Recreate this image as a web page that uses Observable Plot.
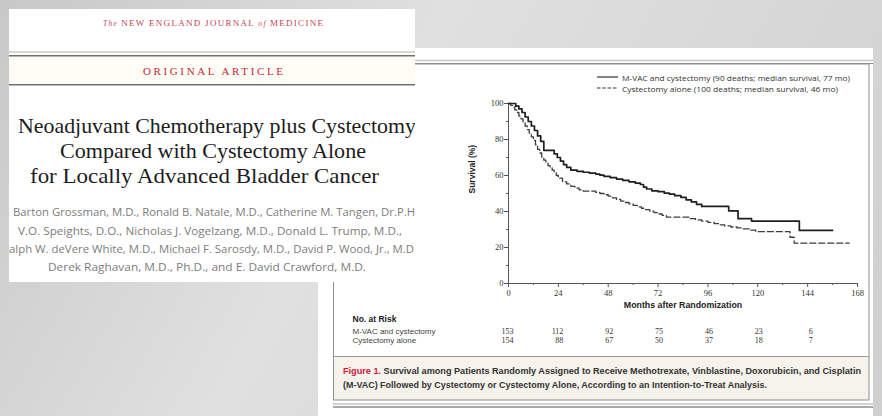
<!DOCTYPE html>
<html><head><meta charset="utf-8">
<script src="https://cdn.jsdelivr.net/npm/d3@7"></script>
<script src="https://cdn.jsdelivr.net/npm/@observablehq/plot@0.6"></script>
<style>
html,body{margin:0;padding:0;background:#d4d4d4;}
#stage{position:relative;width:882px;height:416px;overflow:hidden;background:linear-gradient(120deg,#c8c8c8 0%,#e0e0e0 40%,#d9d9d9 65%,#cfcfcf 100%);}
#deco,#plot{position:absolute;left:0;top:0;}
</style></head><body>
<div id="stage"><svg id="deco" width="882" height="416"></svg><div id="plot"></div></div>
<script>
// ---- chart data ----
const xTicks = [0, 24, 48, 72, 96, 120, 144, 168];
const xMinorTicks = [12, 36, 60, 84, 108, 132, 156];
const yTicks = [0, 20, 40, 60, 80, 100];
const yMinorTicks = [10, 30, 50, 70, 90];

const mvacMonths = [0, 3.5, 5, 6.5, 8, 9.5, 11, 12.5, 14, 15.5, 17, 22, 23.5, 25, 26.5, 28, 30, 33, 36, 39, 42, 44, 46, 49, 52, 55, 58, 61, 63.5, 65, 66.5, 69, 72, 75, 77.5, 80, 83, 85.5, 88, 90.5, 93, 106, 110.5, 117, 140, 156];
const mvacSurv = [100, 98.5, 97, 95, 92.5, 90, 87.5, 85, 82, 79, 74, 72, 70, 68, 66, 64.5, 63, 62.3, 61.8, 61.3, 60.8, 60.2, 59.5, 58.8, 58, 57.3, 56.5, 55.8, 55, 53.5, 52.5, 51.5, 51, 50.2, 49.6, 48.8, 47.8, 46.5, 45.3, 44, 42.8, 40.4, 36, 34.7, 29.5, 29.5];

const cystMonths = [0, 1, 2, 3, 4, 5, 6, 7, 8, 9, 10, 11, 12, 13, 14, 15, 16, 17, 18, 19, 20, 21, 22, 23, 24, 26, 28, 30, 32, 34, 36, 42, 44, 46, 48, 50, 52, 54, 56, 58, 60, 62, 64, 66, 68, 70, 72, 74, 76, 87.5, 90, 93, 96, 99, 101.5, 104, 107, 110, 112.5, 116, 119, 135.5, 137.5, 164];
const cystSurv = [100, 99, 98, 96.5, 95, 93, 91.5, 89.5, 87.5, 85.5, 83.5, 81.5, 79.5, 77, 74.5, 72.5, 70, 68.5, 67, 65.5, 64.5, 63, 61.5, 60, 58.5, 56.5, 55.3, 54, 53, 52, 51.3, 50.6, 50, 49.3, 48.5, 47.6, 46.7, 45.8, 45, 44.2, 43.4, 42.6, 41.8, 41, 40.2, 39.4, 38.6, 37.8, 36.9, 36, 35.4, 34.7, 34, 33.3, 32.6, 32, 31.4, 30.9, 30.4, 29.6, 28.8, 25.7, 22.4, 22.4];

const riskMonths = [0, 24, 48, 72, 96, 120, 144];
const mvacAtRisk = [153, 112, 92, 75, 46, 23, 6];
const cystAtRisk = [154, 88, 67, 50, 37, 18, 7];
const riskRowLabels = ["M-VAC and cystectomy", "Cystectomy alone"];
const seriesLabels = ["M-VAC and cystectomy (90 deaths; median survival, 77 mo)", "Cystectomy alone (100 deaths; median survival, 46 mo)"];

// ---- slide / page texts ----
const journalName = ["The ", "NEW ENGLAND JOURNAL ", "of ", "MEDICINE"];
const sectionName = "ORIGINAL ARTICLE";
const titleLines = ["Neoadjuvant Chemotherapy plus Cystectomy", "Compared with Cystectomy Alone", "for Locally Advanced Bladder Cancer"];
const authorLines = [
  "J. Barton Grossman, M.D., Ronald B. Natale, M.D., Catherine M. Tangen, Dr.P.H.",
  "V.O. Speights, D.O., Nicholas J. Vogelzang, M.D., Donald L. Trump, M.D.,",
  "Ralph W. deVere White, M.D., Michael F. Sarosdy, M.D., David P. Wood, Jr., M.D.,",
  "Derek Raghavan, M.D., Ph.D., and E. David Crawford, M.D."
];
const captionLead = "Figure 1.";
const captionLines = [
  " Survival among Patients Randomly Assigned to Receive Methotrexate, Vinblastine, Doxorubicin, and Cisplatin",
  "(M-VAC) Followed by Cystectomy or Cystectomy Alone, According to an Intention-to-Treat Analysis."
];

// ---- decorations (slide images) ----
const titleGeom = [[18, 125, 398], [60, 150, 306], [30, 175, 349]];
const authorGeom = [[4, 212, 414], [18, 230.5, 384], [2, 249, 418], [48, 267, 318]];
const sans = "'Open Sans','Liberation Sans',sans-serif";
const serif = "'Liberation Serif','DejaVu Serif',serif";
let s = "";
// right picture
s += `<rect x="318" y="48" width="555" height="368" fill="#ffffff"/>`;
s += `<line x1="318" x2="873" y1="60.5" y2="60.5" stroke="#c6c6c6" stroke-width="1.5"/>`;
s += `<line x1="318" x2="873" y1="63.5" y2="63.5" stroke="#8c8c8c" stroke-width="1.2"/>`;
s += `<rect x="334" y="357" width="535" height="43" fill="#f6f2ec"/>`;
s += `<rect x="333.5" y="64" width="535.5" height="336" fill="none" stroke="#909090" stroke-width="1"/>`;
s += `<line x1="333.5" x2="869" y1="356.5" y2="356.5" stroke="#9a9a9a" stroke-width="1"/>`;
s += `<line x1="333" x2="873" y1="404" y2="404" stroke="#c4c4c4" stroke-width="1.5"/>`;
s += `<line x1="333" x2="873" y1="407" y2="407" stroke="#8c8c8c" stroke-width="1.3"/>`;
// legend
s += `<line x1="597" x2="618" y1="77" y2="77" stroke="#333" stroke-width="1.2"/>`;
s += `<line x1="597" x2="618" y1="88" y2="88" stroke="#333" stroke-width="1.2" stroke-dasharray="3.5,1.8"/>`;
s += `<text x="622" y="77" dominant-baseline="central" font-family="${sans}" font-size="8" fill="#333" textLength="228" lengthAdjust="spacingAndGlyphs">${seriesLabels[0]}</text>`;
s += `<text x="622" y="88" dominant-baseline="central" font-family="${sans}" font-size="8" fill="#333" textLength="216" lengthAdjust="spacingAndGlyphs">${seriesLabels[1]}</text>`;
// caption
s += `<text x="343" y="371" dominant-baseline="central" font-family="'Liberation Sans',sans-serif" font-weight="bold" font-size="8.6" fill="#333" textLength="518" lengthAdjust="spacingAndGlyphs"><tspan fill="#d6173c">${captionLead}</tspan>${captionLines[0]}</text>`;
s += `<text x="343" y="385" dominant-baseline="central" font-family="'Liberation Sans',sans-serif" font-weight="bold" font-size="8.6" fill="#333" textLength="424" lengthAdjust="spacingAndGlyphs">${captionLines[1]}</text>`;
// left picture
s += `<clipPath id="lc"><rect x="9" y="9" width="406" height="273"/></clipPath>`;
s += `<rect x="9" y="9" width="406" height="273" fill="#ffffff"/>`;
s += `<g clip-path="url(#lc)">`;
s += `<text x="103" y="22.5" dominant-baseline="central" font-family="${serif}" font-size="9" fill="#c94257" textLength="220" lengthAdjust="spacing"><tspan font-style="italic" font-size="7.5">${journalName[0]}</tspan><tspan>${journalName[1]}</tspan><tspan font-style="italic" font-size="7.5">${journalName[2]}</tspan><tspan>${journalName[3]}</tspan></text>`;
s += `<line x1="9" x2="420" y1="52" y2="52" stroke="#c8c8c8" stroke-width="1.5"/>`;
s += `<rect x="9" y="56.6" width="406" height="27.4" fill="#fdfcf5"/>`;
s += `<line x1="9" x2="420" y1="55.8" y2="55.8" stroke="#707070" stroke-width="1.6"/>`;
s += `<line x1="9" x2="420" y1="84.8" y2="84.8" stroke="#707070" stroke-width="1.6"/>`;
s += `<text x="143" y="70.5" dominant-baseline="central" font-family="${serif}" font-size="11" fill="#c9263d" textLength="140" lengthAdjust="spacing">${sectionName}</text>`;
titleLines.forEach((t, i) => {
  const [x, y, w] = titleGeom[i];
  s += `<text x="${x}" y="${y}" dominant-baseline="central" font-family="${serif}" font-size="22" fill="#1c1c1c" textLength="${w}" lengthAdjust="spacingAndGlyphs">${t}</text>`;
});
authorLines.forEach((t, i) => {
  const [x, y, w] = authorGeom[i];
  s += `<text x="${x}" y="${y}" dominant-baseline="central" font-family="${sans}" font-size="10.5" fill="#7d7d7d" textLength="${w}" lengthAdjust="spacingAndGlyphs">${t}</text>`;
});
s += `</g>`;
document.getElementById("deco").innerHTML = s;

// ---- chart ----
const mvac = mvacMonths.map((m, i) => ({month: m, surv: mvacSurv[i]}));
const cyst = cystMonths.map((m, i) => ({month: m, surv: cystSurv[i]}));
const riskM = riskMonths.map((m, i) => ({month: m, n: mvacAtRisk[i]}));
const riskC = riskMonths.map((m, i) => ({month: m, n: cystAtRisk[i]}));
const lab = {fontFamily: "'Liberation Sans',sans-serif", fill: "#222"};

const chart = Plot.plot({
  width: 882, height: 416,
  marginLeft: 508, marginRight: 25, marginTop: 103, marginBottom: 133,
  x: {domain: [0, 168]},
  y: {domain: [0, 100]},
  style: {background: "transparent", color: "#333", fontFamily: serif, fontSize: "8.5px"},
  marks: [
    Plot.axisX({ticks: xMinorTicks, tickSize: 2, tickFormat: () => "", label: null, stroke: "#555"}),
    Plot.axisX({ticks: xTicks, tickSize: 4, tickPadding: 2, tickFormat: d => String(d), label: null, stroke: "#555", fill: "#333"}),
    Plot.axisY({ticks: yMinorTicks, tickSize: 2, tickFormat: () => "", label: null, stroke: "#555"}),
    Plot.axisY({ticks: yTicks, tickSize: 4, tickPadding: 1, tickFormat: d => String(d), label: null, stroke: "#555", fill: "#333"}),
    Plot.ruleY([0], {stroke: "#555", strokeWidth: 1}),
    Plot.ruleX([0], {stroke: "#555", strokeWidth: 1}),
    Plot.line(cyst, {x: "month", y: "surv", curve: "step-after", stroke: "#3c3c3c", strokeWidth: 1.3, strokeDasharray: "6,3"}),
    Plot.line(mvac, {x: "month", y: "surv", curve: "step-after", stroke: "#1e1e1e", strokeWidth: 1.7}),
    Plot.text(["Survival (%)"], {text: d => d, frameAnchor: "left", dx: -36, rotate: -90, fontWeight: "bold", fontSize: 8.5, ...lab}),
    Plot.text(["Months after Randomization"], {text: d => d, frameAnchor: "bottom", dy: 24, fontWeight: "bold", fontSize: 8.8, ...lab}),
    Plot.text(["No. at Risk"], {text: d => d, frameAnchor: "bottom-left", dx: -156, dy: 38, textAnchor: "start", fontWeight: "bold", fontSize: 8.5, ...lab}),
    Plot.text([riskRowLabels[0]], {text: d => d, frameAnchor: "bottom-left", dx: -156, dy: 50, textAnchor: "start", fontSize: 8, ...lab, fill: "#444"}),
    Plot.text([riskRowLabels[1]], {text: d => d, frameAnchor: "bottom-left", dx: -156, dy: 59, textAnchor: "start", fontSize: 8, ...lab, fill: "#444"}),
    Plot.text(riskM, {x: "month", text: "n", frameAnchor: "bottom", dy: 50, dx: 5, textAnchor: "end", fontSize: 8, fontFamily: serif, fill: "#333"}),
    Plot.text(riskC, {x: "month", text: "n", frameAnchor: "bottom", dy: 59, dx: 5, textAnchor: "end", fontSize: 8, fontFamily: serif, fill: "#333"})
  ]
});
document.getElementById("plot").appendChild(chart);
</script>
</body></html>
